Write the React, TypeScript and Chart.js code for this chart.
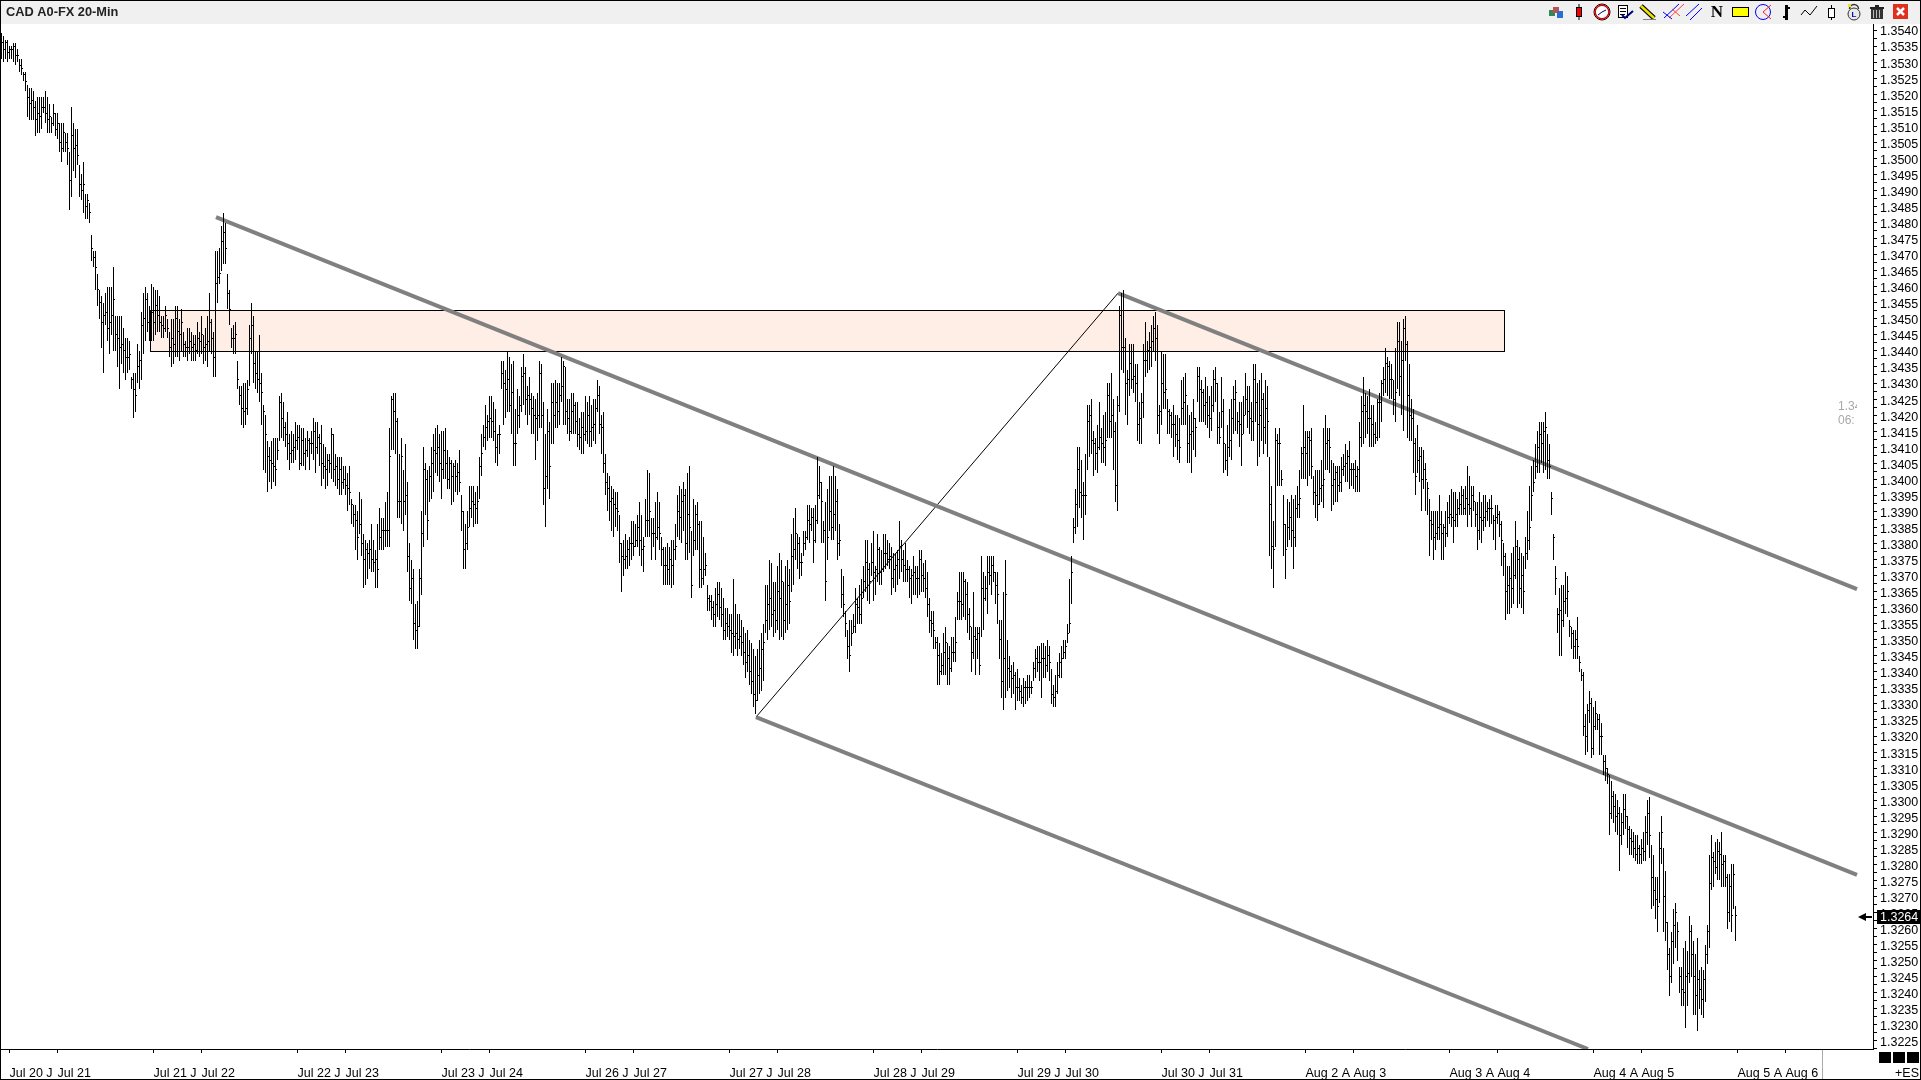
import React, { useEffect, useRef } from "react";
import { Chart, registerables } from "chart.js";

Chart.register(...registerables);

// All bar values are in pips above 1.3000: 20 bars per row.
const PRICE_BASE = 1.3;
const highs = [
539,538,537,537,535,535,536,536,534,531,531,527,527,523,522,522,521,518,519,519,
519,519,521,519,517,513,517,514,514,511,511,511,508,508,502,516,511,509,509,498,
495,499,489,489,486,476,471,471,464,459,457,455,458,460,460,460,466,451,451,451,
451,447,444,444,443,432,433,433,442,440,452,458,460,458,454,461,460,459,459,457,
451,451,454,450,446,450,450,454,454,450,453,446,443,447,447,446,445,445,449,446,
451,445,447,451,458,450,446,471,471,472,479,483,480,464,459,447,448,449,437,429,
429,430,430,431,448,455,451,440,440,445,433,423,420,412,410,412,413,413,413,426,
427,424,418,421,414,415,414,418,417,417,416,416,413,415,413,415,419,418,418,414,
417,411,410,408,408,416,414,408,407,407,407,404,404,402,404,394,392,392,390,396,
394,383,381,380,381,386,381,378,386,391,388,388,393,396,416,426,427,427,419,408,
413,403,411,399,380,375,372,361,362,372,390,410,405,403,404,410,414,416,417,414,
415,415,416,409,407,406,405,406,405,409,395,390,386,390,398,398,398,396,398,407,
414,417,423,420,426,426,424,422,414,417,437,437,434,440,438,436,437,422,428,426,
435,439,435,429,432,427,426,425,427,437,436,424,414,422,418,430,430,431,430,430,
438,437,435,425,425,427,427,424,424,419,421,421,426,424,426,423,425,425,431,429,
420,421,408,402,401,398,397,396,396,389,380,381,383,381,382,387,387,386,389,393,
389,382,394,403,402,388,388,393,396,393,382,379,379,380,379,381,381,386,395,398,
397,399,397,402,404,384,394,392,393,387,387,382,377,367,364,364,362,366,368,368,
366,363,360,360,358,358,369,361,358,358,356,354,352,353,350,349,347,345,347,350,
352,355,367,367,375,374,368,368,373,377,375,368,373,375,372,383,388,391,383,382,
377,384,384,392,392,391,391,392,407,404,399,387,393,397,401,401,404,401,397,386,
372,370,359,353,356,356,358,366,363,367,369,373,381,381,374,380,384,373,383,379,
378,383,383,381,380,379,377,377,378,387,381,378,380,375,373,372,376,373,373,378,
378,374,375,371,363,359,359,351,351,349,346,352,354,349,348,351,351,357,365,371,
371,371,369,368,360,354,365,354,354,354,376,371,370,376,376,376,376,371,371,356,
356,365,375,350,345,342,343,340,341,338,336,338,337,339,339,337,343,347,348,348,
349,349,348,350,348,341,336,339,343,346,348,350,350,355,369,376,388,397,410,410,
406,399,408,423,423,425,415,413,417,424,416,420,421,430,430,433,425,418,426,454,
458,459,444,434,442,442,442,436,436,424,427,442,449,443,446,448,451,452,448,423,
440,439,439,425,422,421,423,420,420,419,431,432,433,423,420,421,425,419,435,435,
431,428,432,429,426,429,434,435,430,421,432,425,411,417,422,425,429,431,421,424,
424,426,433,429,429,424,436,436,430,431,433,427,431,429,407,398,387,416,414,416,
403,395,386,394,393,395,394,395,398,403,410,423,415,415,415,416,401,403,403,403,
406,416,420,416,416,406,405,404,404,404,407,408,411,409,412,405,405,406,404,418,
426,432,427,426,428,423,423,418,425,427,431,435,441,438,437,436,431,441,449,449,
443,450,451,443,436,425,422,413,417,410,410,409,405,399,394,390,390,390,390,395,
390,386,390,393,395,397,396,396,394,396,398,397,398,404,401,398,398,393,393,396,
393,395,395,393,394,395,389,392,392,390,387,380,377,373,373,377,379,387,381,379,
377,376,382,390,398,404,406,411,415,418,418,418,421,414,411,396,383,373,360,366,
367,367,371,370,356,354,353,353,357,345,341,340,327,330,334,332,329,331,327,327,
324,314,314,310,308,306,303,302,300,298,296,302,302,295,292,291,290,289,289,286,
288,290,295,300,301,286,283,276,276,290,295,285,278,262,254,259,266,268,262,248,
248,254,256,253,264,261,256,252,257,247,248,247,255,261,283,289,284,287,288,287,
290,283,283,277,277,280,280,267,
];
const lows = [
531,530,531,530,531,531,530,529,530,527,526,524,521,513,512,512,512,507,508,508,
509,514,511,508,508,508,510,507,506,502,499,502,502,498,484,488,496,494,498,488,
487,483,481,481,480,468,466,459,454,450,441,433,448,443,439,445,440,440,435,428,
436,433,431,433,434,428,419,421,430,428,431,439,443,446,443,443,443,445,446,446,
444,444,446,444,438,435,436,438,438,437,440,438,438,437,439,437,437,437,439,438,
439,436,437,435,440,439,432,432,455,461,465,467,467,453,448,441,439,439,428,423,
417,416,417,420,429,439,430,428,427,424,417,403,402,396,399,397,399,398,406,412,
413,412,410,406,403,405,405,406,409,403,404,404,403,407,403,408,406,402,408,404,
398,400,397,398,402,400,399,398,397,395,395,397,395,390,392,386,385,378,375,383,
376,366,367,369,372,371,371,366,366,378,378,378,379,379,379,409,409,408,388,388,
386,384,389,371,362,361,350,347,347,354,364,379,389,381,393,394,396,402,401,399,
394,400,400,397,397,392,393,396,395,396,384,372,372,378,385,388,385,386,386,394,
401,410,409,412,413,413,412,405,404,408,428,417,419,421,421,414,404,404,414,416,
421,423,420,417,420,414,414,406,412,416,416,392,385,397,394,411,411,416,416,417,
424,417,417,414,412,414,414,414,410,409,408,408,412,411,410,410,412,411,421,414,
408,402,395,390,387,384,382,385,384,374,365,370,372,372,373,375,376,379,379,376,
373,371,382,382,382,375,379,375,381,378,373,367,367,367,367,366,367,375,382,381,
380,384,375,375,377,363,376,378,378,366,366,367,370,359,359,356,354,354,357,356,
354,350,350,351,350,346,345,347,345,347,345,342,338,340,336,333,329,327,331,333,
334,337,352,350,353,354,351,352,353,350,351,350,352,353,355,365,367,375,372,369,
370,376,378,381,380,384,374,380,386,394,380,380,362,375,384,381,381,384,375,376,
360,357,351,344,340,348,352,352,355,355,355,363,365,362,361,370,362,364,368,367,
367,371,372,373,372,364,366,365,367,369,371,368,368,368,363,361,364,364,363,364,
365,365,363,357,352,351,347,347,336,336,339,339,339,336,336,340,343,343,356,356,
356,357,356,352,350,340,344,339,344,339,351,353,362,358,367,364,368,361,355,344,
332,328,332,334,335,332,333,328,331,331,330,329,330,331,332,333,337,338,340,337,
332,338,338,340,337,330,329,329,333,338,338,344,344,349,352,361,380,383,385,391,
388,381,389,403,407,408,401,403,402,409,405,405,404,413,413,413,403,393,390,421,
434,433,420,417,426,428,427,424,412,411,411,419,432,433,434,435,440,437,414,411,
417,422,422,414,414,413,407,410,406,405,417,417,417,405,405,402,409,407,424,418,
418,418,417,416,413,415,421,424,411,411,416,402,403,401,407,406,414,415,414,410,
404,414,420,416,414,412,412,418,404,407,412,408,411,407,376,372,366,379,398,398,
398,376,369,379,381,379,372,379,388,388,400,400,400,398,401,400,392,388,387,392,
393,391,403,403,402,390,392,393,393,396,396,401,399,399,397,398,397,396,396,396,
410,411,413,414,410,410,410,411,412,413,418,426,427,426,425,425,420,418,428,426,
420,415,437,413,412,412,402,395,402,399,390,397,390,389,376,381,375,378,381,381,
375,375,379,382,386,385,380,385,385,389,389,389,389,385,389,385,390,385,378,381,
380,384,385,387,385,386,381,378,386,382,373,370,356,358,358,360,361,369,360,361,
360,358,372,375,378,387,396,400,402,402,405,402,403,400,400,389,375,364,352,345,
345,354,358,357,351,347,344,344,344,340,337,320,314,315,324,313,314,322,322,314,
314,308,306,305,289,294,293,290,289,278,286,289,291,285,283,283,282,281,280,280,
280,281,281,286,282,266,267,263,259,268,280,259,256,247,239,243,249,254,250,240,
236,236,229,236,243,245,233,233,228,235,233,232,237,249,254,272,273,277,275,275,
273,273,273,260,262,259,266,256,
];
const closes = [
536,534,536,533,534,534,535,532,532,529,528,526,524,519,517,518,516,512,514,513,
516,516,514,512,513,511,514,509,511,505,503,508,505,503,493,507,503,504,501,492,
490,492,485,487,483,472,469,466,459,455,449,451,452,447,449,451,456,445,444,441,
442,440,438,438,439,431,428,426,435,437,448,450,456,449,451,452,449,454,451,449,
448,447,451,447,441,444,442,450,446,445,449,442,441,441,443,441,442,440,444,443,
445,441,442,443,449,444,438,461,463,464,474,477,472,458,453,444,444,445,431,426,
422,421,422,428,444,448,436,433,431,430,427,421,414,407,406,405,404,403,409,424,
419,416,414,411,408,409,410,412,413,405,412,408,409,412,411,411,415,410,413,411,
405,404,403,406,405,414,403,404,400,403,399,400,398,397,396,392,389,387,382,386,
380,375,378,377,378,375,374,375,372,382,384,384,384,384,407,425,421,418,393,393,
407,393,395,376,366,369,355,353,354,369,383,403,400,387,401,405,409,408,410,405,
403,409,405,400,405,401,404,401,402,399,390,378,380,385,391,393,392,391,393,404,
408,413,416,418,419,418,415,410,414,414,433,430,428,431,423,427,411,411,420,423,
432,433,425,426,425,422,420,419,420,433,420,397,401,415,404,424,420,424,421,426,
429,435,421,419,415,421,423,418,414,413,416,414,415,420,415,416,417,422,426,417,
416,405,399,397,393,394,392,391,390,380,376,375,376,378,380,380,379,381,385,381,
378,379,387,387,390,383,383,382,385,383,378,373,373,372,375,373,378,379,390,388,
393,395,380,389,385,367,381,389,386,372,369,372,373,363,362,360,358,361,364,360,
358,353,355,354,353,352,351,352,350,351,349,346,343,345,340,337,333,331,339,341,
347,349,356,361,363,358,359,356,365,363,368,356,361,367,362,376,378,383,380,374,
374,380,382,387,386,388,381,387,395,399,393,384,368,382,390,385,389,393,380,381,
364,361,355,348,345,352,354,361,360,358,363,368,374,372,368,374,371,372,378,371,
372,377,377,375,376,369,372,373,375,379,375,373,372,372,369,370,371,369,369,375,
370,369,366,361,356,355,353,349,345,340,342,346,349,344,341,346,346,349,362,362,
361,368,364,358,354,346,351,350,352,342,366,363,366,371,370,373,371,367,364,350,
337,344,364,341,340,338,339,335,335,334,332,335,335,335,335,335,341,344,343,343,
344,344,342,345,343,333,332,334,339,343,344,346,348,352,355,371,385,392,403,396,
395,395,395,418,420,412,411,408,410,413,411,410,412,426,418,420,415,398,423,451,
441,441,430,431,436,431,432,430,417,419,424,437,437,440,441,443,447,444,420,421,
430,427,428,421,420,417,417,414,412,410,422,424,426,411,414,415,419,416,432,428,
427,423,424,420,419,423,431,430,416,413,421,411,406,410,412,419,425,427,418,417,
414,420,425,421,419,418,431,424,417,420,425,416,422,418,392,379,378,412,411,411,
400,386,378,385,388,384,382,391,392,394,408,410,408,413,412,404,396,395,392,397,
398,400,411,412,410,398,400,402,398,399,403,404,405,407,403,403,403,401,403,413,
421,423,421,419,419,417,414,413,424,424,430,431,436,435,431,431,425,427,443,432,
437,447,442,426,420,419,411,401,406,407,400,403,400,397,387,386,382,383,385,386,
383,385,383,388,389,388,387,389,391,392,395,391,394,392,391,395,393,389,384,388,
387,388,390,391,391,391,387,388,389,386,381,376,365,367,369,366,370,379,375,366,
370,365,377,381,385,395,399,404,410,414,411,415,416,406,404,394,382,369,358,359,
356,362,363,365,354,352,348,350,348,343,339,323,320,328,330,316,323,327,325,320,
320,312,310,308,296,301,298,295,296,289,293,297,295,291,288,287,285,283,285,283,
285,284,290,296,289,276,272,269,267,285,290,270,262,252,245,256,261,265,259,245,
241,240,245,246,259,252,245,239,244,241,238,244,252,259,274,282,281,279,284,283,
280,281,276,265,273,264,277,264,
];

// Tick labels
const xTickBars = [4,28,76,100,148,172,220,244,292,316,364,388,436,460,508,532,580,604,652,676,724,748,796,820,868,892];
const xTickLabels = ["Jul 20 J","Jul 21","Jul 21 J","Jul 22","Jul 22 J","Jul 23","Jul 23 J","Jul 24","Jul 26 J","Jul 27","Jul 27 J","Jul 28","Jul 28 J","Jul 29","Jul 29 J","Jul 30","Jul 30 J","Jul 31","Aug 2 A","Aug 3","Aug 3 A","Aug 4","Aug 4 A","Aug 5","Aug 5 A","Aug 6"];
const yTickLabels = ["1.3540","1.3535","1.3530","1.3525","1.3520","1.3515","1.3510","1.3505","1.3500","1.3495","1.3490","1.3485","1.3480","1.3475","1.3470","1.3465","1.3460","1.3455","1.3450","1.3445","1.3440","1.3435","1.3430","1.3425","1.3420","1.3415","1.3410","1.3405","1.3400","1.3395","1.3390","1.3385","1.3380","1.3375","1.3370","1.3365","1.3360","1.3355","1.3350","1.3345","1.3340","1.3335","1.3330","1.3325","1.3320","1.3315","1.3310","1.3305","1.3300","1.3295","1.3290","1.3285","1.3280","1.3275","1.3270","1.3265","1.3260","1.3255","1.3250","1.3245","1.3240","1.3235","1.3230","1.3225"];

// Drawn objects, [bar index, pips]
const channelUpper = [[558.25, 458.0], [927.75, 365.8]];
const channelMiddle = [[107.25, 481.7], [927.75, 276.7]];
const channelLower = [[377.25, 325.9], [793.25, 222.47]];
const pitchforkHandle = [[377.25, 325.9], [558.25, 458.0]];
const zoneBars = [74, 751];
const zonePips = [452.6, 439.8];

const lastPrice = "1.3264";
const titleText = "CAD A0-FX 20-Min";
const FONT = "'Liberation Sans', Arial, sans-serif";

const toPrice = (p: number) => PRICE_BASE + p / 10000;
const toPoints = (pts: number[][]) => pts.map(([x, p]) => ({ x, y: toPrice(p) }));

function drawToolbar(c: CanvasRenderingContext2D) {
  const line = (pts: number[][], color: string, w = 1) => {
    c.strokeStyle = color; c.lineWidth = w; c.beginPath();
    pts.forEach(([x, y], i) => (i ? c.lineTo(x, y) : c.moveTo(x, y)));
    c.stroke();
  };
  const box = (x: number, y: number, w: number, h: number, fill: string) => { c.fillStyle = fill; c.fillRect(x, y, w, h); };
  // cubes
  box(1549, 10, 6, 6, "#2e8b57"); box(1553, 7, 6, 6, "#c05050"); box(1557, 11, 6, 7, "#2a6fd0");
  // red candle
  box(1578.5, 4, 1, 16, "#000"); box(1576, 7, 6, 10, "#000"); box(1577, 8, 4, 8, "#f00000");
  // clock
  c.strokeStyle = "#000"; c.lineWidth = 1; c.beginPath(); c.arc(1602, 12, 8, 0, 6.29); c.stroke();
  c.strokeStyle = "#e00000"; c.lineWidth = 1.5; c.beginPath(); c.arc(1602, 12, 6.8, 0, 6.29); c.stroke();
  c.fillStyle = "#fff"; c.beginPath(); c.arc(1602, 12, 5.8, 0, 6.29); c.fill();
  line([[1598, 15], [1602, 12], [1606, 10]], "#000080");
  // checklist
  box(1618, 5, 10, 13, "#fff"); c.strokeStyle = "#000"; c.lineWidth = 1; c.strokeRect(1618.5, 5.5, 9, 12);
  line([[1620, 8.5], [1626, 8.5]], "#000"); line([[1620, 11.5], [1626, 11.5]], "#000"); line([[1620, 14.5], [1625, 14.5]], "#000");
  line([[1622, 15], [1625, 18], [1633, 11]], "#000080", 2);
  // pencil
  line([[1641, 6], [1654, 18]], "#000", 5); line([[1641, 6], [1654, 18]], "#f0e000", 2.5);
  line([[1643, 19.5], [1656, 19.5]], "#808080");
  // pitchfork
  line([[1664, 18], [1679, 4]], "#0000ff"); line([[1669, 18], [1684, 4]], "#ff4040"); line([[1663, 12], [1672, 19]], "#0000ff"); line([[1672, 9], [1680, 16]], "#ff4040");
  // parallel
  line([[1686, 16], [1699, 4]], "#0000ff"); line([[1690, 20], [1702, 8]], "#0000ff");
  // N
  c.fillStyle = "#000"; c.font = "bold 17px 'Liberation Serif', serif"; c.textBaseline = "middle"; c.textAlign = "center"; c.fillText("N", 1717, 13);
  // rectangle
  box(1732, 7, 17, 10, "#000"); box(1733, 8, 15, 8, "#ffff00");
  // circle
  c.strokeStyle = "#0000ff"; c.lineWidth = 1; c.beginPath(); c.arc(1763, 12, 7.5, 0, 6.29); c.stroke();
  line([[1763, 12], [1771, 5]], "#ff2020"); line([[1763, 12], [1771, 19]], "#ff2020");
  // ohlc
  box(1785, 5, 3, 15, "#000"); box(1788, 7, 2, 2, "#000"); box(1783, 16, 2, 2, "#000");
  // zigzag
  line([[1801, 15], [1805, 10], [1810, 15], [1817, 6]], "#000");
  // hollow candle
  line([[1831.5, 5], [1831.5, 20]], "#000"); box(1828, 8, 7, 10, "#000"); box(1829, 9, 5, 8, "#fff");
  // lock
  c.strokeStyle = "#333"; c.lineWidth = 1.5; c.beginPath(); c.arc(1854, 9, 4.5, Math.PI, 0); c.stroke();
  c.fillStyle = "#e8e8e8"; c.beginPath(); c.arc(1854, 14, 6, 0, 6.29); c.fill(); c.strokeStyle = "#333"; c.lineWidth = 1; c.stroke();
  c.fillStyle = "#0000aa"; c.font = "bold 8px " + FONT; c.fillText("L", 1854, 14.5);
  box(1848, 4, 3, 3, "#f5e020");
  // trash
  box(1870, 7, 14, 2, "#222"); box(1875, 5, 4, 2, "#222"); box(1871, 9, 12, 10, "#333");
  for (const x of [1873, 1876, 1879]) box(x, 10, 1, 8, "#bbb");
  // close
  box(1893, 4, 15, 15, "#e03020");
  line([[1897, 8], [1904, 15]], "#fff", 2.5); line([[1904, 8], [1897, 15]], "#fff", 2.5);
}

const frame = {
  id: "frame",
  beforeDraw(chart: any) {
    const c = chart.ctx;
    c.save();
    c.fillStyle = "#fff"; c.fillRect(0, 0, 1921, 1080);
    c.fillStyle = "#f0f0f0"; c.fillRect(0, 0, 1921, 24);
    c.restore();
  },
  beforeDatasetsDraw(chart: any) {
    const c = chart.ctx;
    const { x, y } = chart.scales;
    // keep bars and close ticks on whole pixels
    chart.data.datasets.forEach((ds: any, i: number) => {
      const meta = chart.getDatasetMeta(i);
      if (ds.type === "bar") {
        meta.data.forEach((el: any) => {
          el.x = Math.floor(el.x) + 0.5;
          el.y = Math.round(el.y);
          el.base = Math.round(el.base);
        });
      } else if (ds.label === "close") {
        meta.data.forEach((el: any) => { el.y = Math.floor(el.y) + 0.5; });
      }
    });
    // supply zone
    const l = Math.round(x.getPixelForValue(zoneBars[0])) + 0.5;
    const r = Math.round(x.getPixelForValue(zoneBars[1])) + 0.5;
    const t = Math.floor(y.getPixelForValue(toPrice(zonePips[0]))) + 0.5;
    const b = Math.floor(y.getPixelForValue(toPrice(zonePips[1]))) + 0.5;
    c.save();
    c.fillStyle = "#ffeee6"; c.fillRect(l, t, r - l, b - t);
    c.strokeStyle = "#000"; c.lineWidth = 1; c.strokeRect(l, t, r - l, b - t);
    // faint leftover readout near the right of the plot
    c.beginPath(); c.rect(1830, 395, 27, 40); c.clip();
    c.fillStyle = "#a8a8a8"; c.font = "12px " + FONT; c.textBaseline = "middle"; c.textAlign = "left";
    c.fillText("1.34", 1838, 407); c.fillText("06:", 1838, 421);
    c.restore();
  },
  afterDraw(chart: any) {
    const c = chart.ctx;
    c.save();
    c.fillStyle = "#222"; c.font = "bold 12.8px " + FONT; c.textBaseline = "middle"; c.textAlign = "left";
    c.fillText(titleText, 6, 12.5);
    drawToolbar(c);
    // last price tag and arrow
    c.fillStyle = "#000"; c.fillRect(1877, 910, 43, 14);
    c.fillStyle = "#fff"; c.font = "12.5px " + FONT; c.textAlign = "left"; c.textBaseline = "middle";
    c.fillText(lastPrice, 1880, 917.5);
    c.fillStyle = "#000"; c.beginPath(); c.moveTo(1858, 917); c.lineTo(1866, 913); c.lineTo(1866, 921); c.fill();
    c.fillRect(1864, 916, 8, 2);
    // panel buttons
    for (const x of [1879, 1893, 1907]) c.fillRect(x, 1052, 12, 11);
    c.fillStyle = "#aaa"; c.fillRect(1822, 1050, 1, 29);
    c.fillStyle = "#000"; c.textAlign = "right"; c.font = "12.5px " + FONT; c.fillText("+ES", 1919, 1074);
    // window frame
    c.strokeStyle = "#000"; c.lineWidth = 1; c.strokeRect(0.5, 0.5, 1920, 1079);
    c.restore();
  },
};

export default function App() {
  const ref = useRef<HTMLCanvasElement | null>(null);
  useEffect(() => {
    const lineDs = (pts: number[][], color: string, width: number) => ({
      type: "line" as const,
      data: toPoints(pts),
      borderColor: color,
      borderWidth: width,
      pointRadius: 0,
      fill: false,
      tension: 0,
      order: 3,
    });
    const chart = new Chart(ref.current as HTMLCanvasElement, {
      type: "bar",
      data: {
        datasets: [
          {
            type: "bar",
            label: "range",
            data: highs.map((h, i) => ({ x: i, y: [toPrice(lows[i]), toPrice(h)] })) as any,
            backgroundColor: "#000",
            borderWidth: 0,
            barThickness: 1,
            grouped: false,
            inflateAmount: 0,
            order: 2,
          },
          {
            type: "line",
            label: "close",
            data: closes.map((p, i) => ({ x: i, y: toPrice(p) })),
            showLine: false,
            pointStyle: "dash",
            pointRadius: 1.5,
            pointBorderWidth: 1,
            pointBorderColor: "#000",
            pointBackgroundColor: "#000",
            order: 1,
          },
          lineDs(channelUpper, "#808080", 4),
          lineDs(channelMiddle, "#808080", 4),
          lineDs(channelLower, "#808080", 4),
          lineDs(pitchforkHandle, "#000", 1),
        ] as any,
      },
      options: {
        animation: false,
        responsive: false,
        devicePixelRatio: 1,
        layout: { autoPadding: false, padding: { left: 1, top: 24, right: 0, bottom: 0 } },
        plugins: { legend: { display: false }, tooltip: { enabled: false }, title: { display: false } },
        events: [],
        scales: {
          x: {
            type: "linear",
            offset: false,
            bounds: "data",
            min: -0.25,
            max: 935.75,
            afterBuildTicks: (s: any) => { s.ticks = xTickBars.map((value) => ({ value })); s.min = -0.25; s.max = 935.75; },
            afterFit: (s: any) => { s.height = 31; },
            grid: { offset: false, drawOnChartArea: false, color: "#000", tickLength: 17, tickWidth: 1, tickBorderDash: [3, 40] },
            border: { color: "#000", width: 1 },
            ticks: {
              callback: (_v: any, i: number) => xTickLabels[i],
              autoSkip: false,
              maxRotation: 0,
              minRotation: 0,
              align: "start",
              padding: 0,
              color: "#000",
              font: { family: FONT, size: 12.5 },
            },
          },
          y: {
            type: "linear",
            position: "right",
            min: 1.322247,
            max: 1.354187,
            afterBuildTicks: (s: any) => {
              const t: any[] = [];
              yTickLabels.forEach((l) => { const v = parseFloat(l); t.push({ value: v }); t.push({ value: v - 0.00025 }); });
              s.ticks = t.reverse();
            },
            afterFit: (s: any) => { s.width = 48; },
            grid: { drawOnChartArea: false, color: "#000", tickLength: 4, tickWidth: 1 },
            border: { color: "#000", width: 1 },
            ticks: {
              callback: (v: any) => {
                const s = Number(v).toFixed(5);
                return s.endsWith("0") ? s.slice(0, 6) : "";
              },
              autoSkip: false,
              padding: 3,
              labelOffset: 2,
              color: "#000",
              font: { family: FONT, size: 12.5 },
            },
          },
        },
      },
      plugins: [frame],
    } as any);
    return () => chart.destroy();
  }, []);
  return <canvas ref={ref} width={1921} height={1080} style={{ position: "fixed", left: 0, top: 0, display: "block" }} />;
}
